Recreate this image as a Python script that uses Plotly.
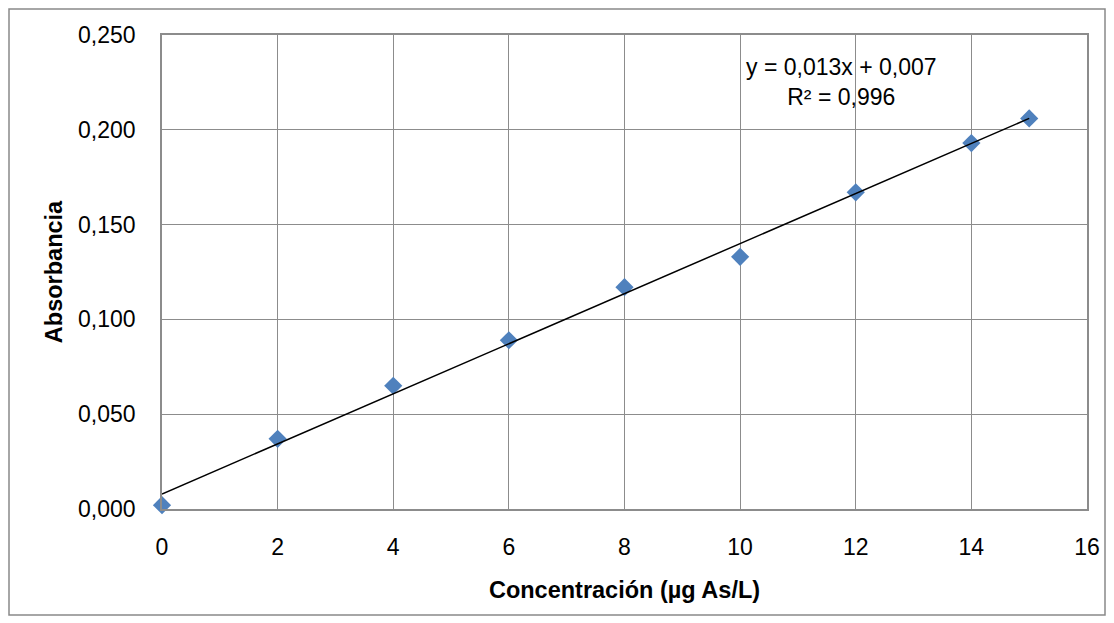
import numpy as np
import plotly.graph_objects as go

concentracion = [0, 2, 4, 6, 8, 10, 12, 14, 15]
absorbancia = [0.002, 0.037, 0.065, 0.089, 0.117, 0.133, 0.167, 0.193, 0.206]
x_ticks = [0, 2, 4, 6, 8, 10, 12, 14, 16]
y_ticks = [0.000, 0.050, 0.100, 0.150, 0.200, 0.250]
equation_text = "y = 0,013x + 0,007<br>R² = 0,996"

slope, intercept = np.polyfit(concentracion, absorbancia, 1)
fit_x = [concentracion[0], concentracion[-1]]
fit_y = [slope * v + intercept for v in fit_x]

W, H = 1114, 623
L, R, T, B = 162, 27, 35, 114
pw, ph = W - L - R, H - T - B

fig = go.Figure()
fig.add_trace(go.Scatter(
    x=concentracion, y=absorbancia, mode="markers",
    marker=dict(symbol="diamond", size=14, color="#4F81BD"),
    showlegend=False, cliponaxis=False))
fig.add_trace(go.Scatter(
    x=fit_x, y=fit_y, mode="lines",
    line=dict(color="black", width=1.5), showlegend=False))

grid = "#8C8C8C"
fig.update_layout(
    width=W, height=H,
    margin=dict(l=L, r=R, t=T, b=B),
    paper_bgcolor="white", plot_bgcolor="white",
    separators=", ",
    font=dict(family="Liberation Sans, Arial, sans-serif", size=23, color="black"),
    xaxis=dict(range=[0, 16], tickvals=x_ticks, showgrid=True, gridcolor=grid,
               gridwidth=1.3, zeroline=False, showline=True, linecolor=grid,
               linewidth=1.5, mirror=True, ticks="", ticklabelstandoff=17,
               title=dict(text="<b>Concentración (µg As/L)</b>", standoff=22,
                          font=dict(size=23.5))),
    yaxis=dict(range=[0, 0.25], tickvals=y_ticks, tickformat=".3f", showgrid=True,
               gridcolor=grid, gridwidth=1.3, zeroline=False, showline=True,
               linecolor=grid, linewidth=1.5, mirror=True, ticks="",
               ticklabelstandoff=20,
               title=dict(text="<b>Absorbancia</b>", standoff=9,
                          font=dict(size=23.5))),
    annotations=[dict(x=11.76, y=0.225, xref="x", yref="y", text=equation_text,
                      showarrow=False, align="center",
                      font=dict(size=23, color="black"))],
    shapes=[dict(type="rect", xref="paper", yref="paper",
                 x0=(9 - L) / pw, x1=(1105 - L) / pw,
                 y0=(H - B - 615) / ph, y1=(H - B - 9) / ph,
                 line=dict(color="#898989", width=1.5), layer="below")],
)

fig.write_html("out.html", config={"displayModeBar": False},
               post_script="document.body.style.margin='0';document.body.style.padding='0';")
